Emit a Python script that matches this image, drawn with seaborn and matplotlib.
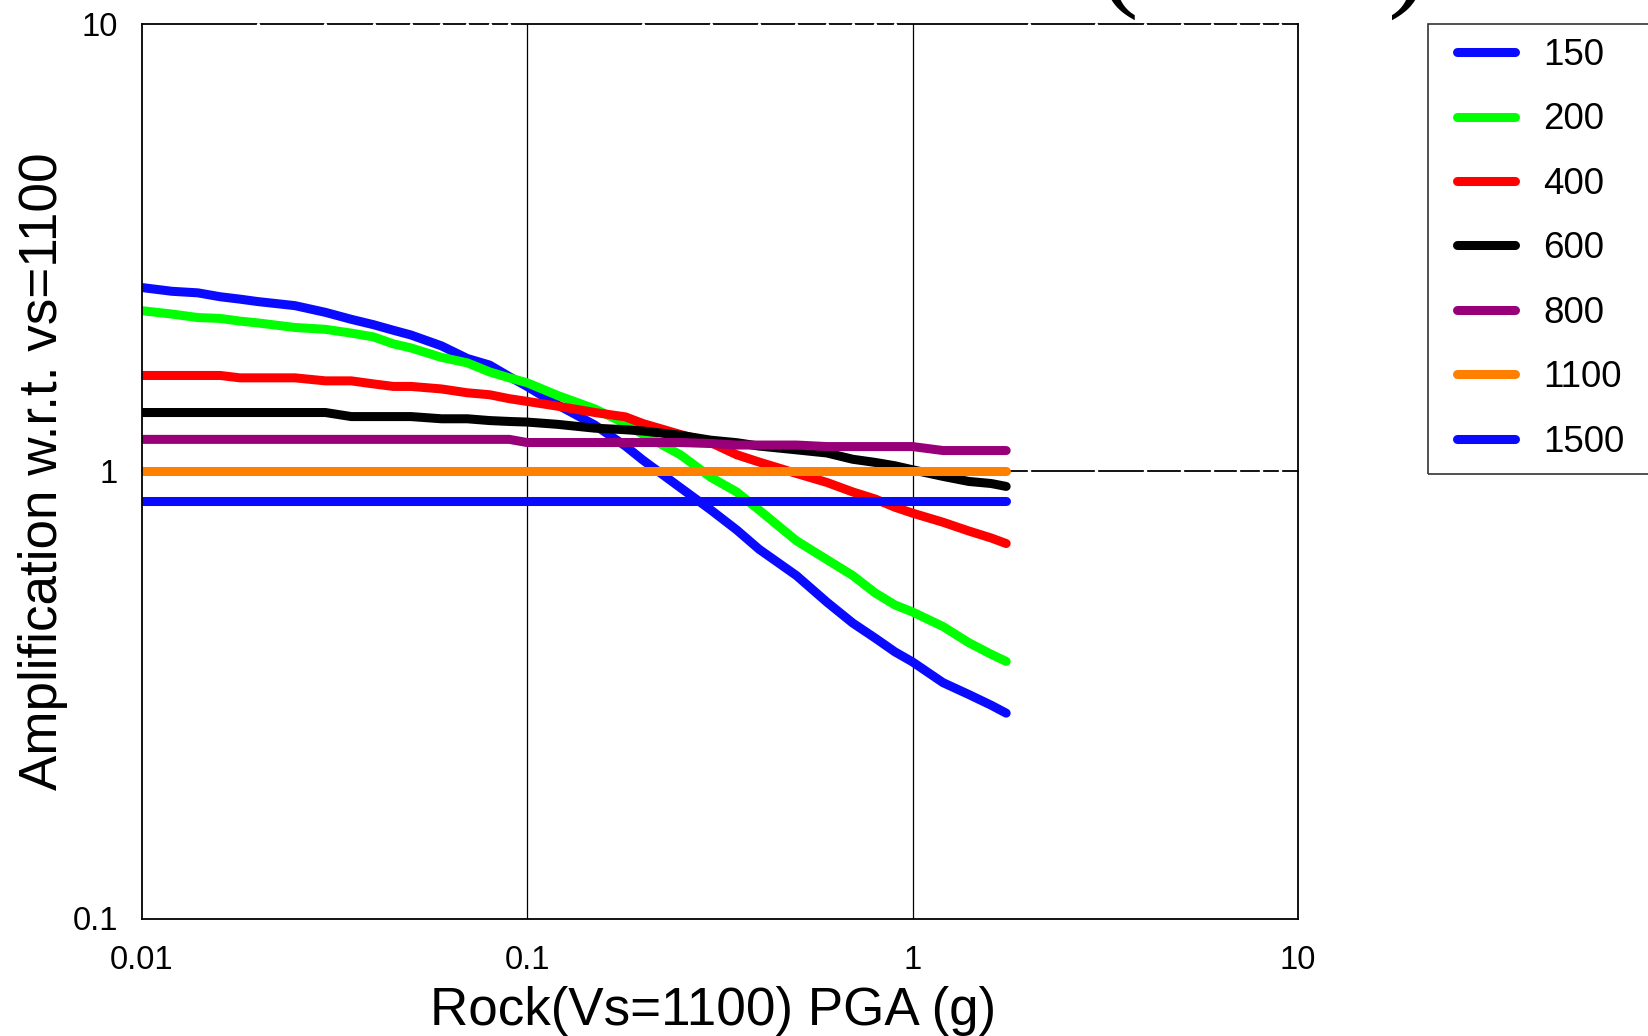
import numpy as np
import pandas as pd
import matplotlib
matplotlib.use("Agg")
import matplotlib.pyplot as plt
from matplotlib.lines import Line2D
from matplotlib.patches import Rectangle
from matplotlib.ticker import LogLocator, NullFormatter, FixedFormatter, FixedLocator
import seaborn as sns

# Rock PGA (g) at which the amplification factors are tabulated
pga = [0.01, 0.012, 0.014, 0.016, 0.018, 0.02, 0.025, 0.03, 0.035, 0.04,
       0.045, 0.05, 0.06, 0.07, 0.08, 0.09, 0.1, 0.12, 0.15, 0.18,
       0.2, 0.25, 0.3, 0.35, 0.4, 0.5, 0.6, 0.7, 0.8, 0.9,
       1.0, 1.2, 1.4, 1.6, 1.75]

# Site Vs30 values (m/s) shown in the legend
vs_labels = ["150", "200", "400", "600", "800", "1100", "1500"]

amp_150 = [2.58, 2.53, 2.51, 2.46, 2.43, 2.40, 2.35, 2.27, 2.19, 2.13,
           2.07, 2.02, 1.91, 1.79, 1.73, 1.63, 1.55, 1.41, 1.27, 1.14,
           1.06, 0.92, 0.82, 0.74, 0.67, 0.585, 0.51, 0.458, 0.424, 0.395,
           0.375, 0.337, 0.317, 0.300, 0.288]
amp_200 = [2.29, 2.25, 2.21, 2.20, 2.17, 2.15, 2.10, 2.08, 2.04, 2.00,
           1.93, 1.89, 1.80, 1.75, 1.67, 1.62, 1.58, 1.48, 1.38, 1.28,
           1.21, 1.09, 0.97, 0.90, 0.82, 0.70, 0.635, 0.585, 0.535, 0.503,
           0.485, 0.450, 0.414, 0.390, 0.376]
amp_400 = [1.64, 1.64, 1.64, 1.64, 1.62, 1.62, 1.62, 1.595, 1.595, 1.57,
           1.55, 1.55, 1.53, 1.50, 1.485, 1.455, 1.435, 1.40, 1.355, 1.325,
           1.28, 1.21, 1.16, 1.09, 1.05, 0.99, 0.945, 0.90, 0.868, 0.832,
           0.807, 0.770, 0.736, 0.710, 0.690]
amp_600 = [1.355, 1.355, 1.355, 1.355, 1.355, 1.355, 1.355, 1.355, 1.327, 1.327,
           1.327, 1.327, 1.312, 1.312, 1.300, 1.294, 1.290, 1.275, 1.250, 1.240,
           1.232, 1.205, 1.175, 1.160, 1.140, 1.118, 1.100, 1.065, 1.048, 1.030,
           1.009, 0.975, 0.950, 0.940, 0.926]
amp_800 = [1.18, 1.18, 1.18, 1.18, 1.18, 1.18, 1.18, 1.18, 1.18, 1.18,
           1.18, 1.18, 1.18, 1.18, 1.18, 1.18, 1.161, 1.161, 1.161, 1.161,
           1.161, 1.161, 1.155, 1.146, 1.146, 1.146, 1.137, 1.137, 1.137, 1.137,
           1.137, 1.114, 1.114, 1.114, 1.114]
amp_1100 = [1.0] * len(pga)
amp_1500 = [0.86] * len(pga)

series = [amp_150, amp_200, amp_400, amp_600, amp_800, amp_1100, amp_1500]
colors = ["#0a0aff", "#00ff00", "#ff0000", "#000000", "#970079", "#ff8000", "#0a0aff"]

x_tick_labels = ["0.01", "0.1", "1", "10"]
y_tick_labels = ["0.1", "1", "10"]

df = pd.concat(
    [pd.DataFrame({"pga": pga, "amp": vals, "vs": lab})
     for lab, vals in zip(vs_labels, series)],
    ignore_index=True,
)
palette = dict(zip(vs_labels, colors))

sns.set_style("white")
plt.rcParams["font.family"] = ["Liberation Sans", "DejaVu Sans"]
for key in ["text.color", "axes.labelcolor", "xtick.color", "ytick.color"]:
    plt.rcParams[key] = "black"

LW = 6.5

W, H = 1648, 1036
fig = plt.figure(figsize=(W / 100, H / 100), dpi=100)
ax = fig.add_axes([141.5 / W, 1 - 918.5 / H, (1298 - 141.5) / W, (918.5 - 24.5) / H])

ax.set_xscale("log")
ax.set_yscale("log")
ax.set_xlim(0.01, 10)
ax.set_ylim(0.1, 10)

sns.lineplot(data=df, x="pga", y="amp", hue="vs", hue_order=vs_labels,
             palette=palette, linewidth=LW, legend=False, errorbar=None,
             solid_capstyle="round", ax=ax, zorder=3)
for ln in ax.lines:
    ln.set_linewidth(LW)
    ln.set_solid_capstyle("round")
    ln.set_solid_joinstyle("round")

# ticks
ax.xaxis.set_major_locator(FixedLocator([0.01, 0.1, 1, 10]))
ax.xaxis.set_major_formatter(FixedFormatter(x_tick_labels))
ax.yaxis.set_major_locator(FixedLocator([0.1, 1, 10]))
ax.yaxis.set_major_formatter(FixedFormatter(y_tick_labels))
ax.xaxis.set_minor_locator(LogLocator(base=10, subs=np.arange(2, 10)))
ax.yaxis.set_minor_locator(LogLocator(base=10, subs=np.arange(2, 10)))
ax.xaxis.set_minor_formatter(NullFormatter())
ax.yaxis.set_minor_formatter(NullFormatter())
ax.tick_params(which="major", direction="out", length=13, width=1.1,
               labelsize=23.5, color="black", labelcolor="black", pad=4)
ax.tick_params(which="minor", direction="out", length=7, width=1.1, color="black")
ax.tick_params(axis="x", which="major", pad=6)

# grid: thin black lines at decades, broken by white minor lines along x
for xv in [0.1, 1]:
    ax.axvline(xv, color="black", lw=0.9, zorder=1)
for yv in [1, 10]:
    ax.axhline(yv, color="black", lw=1.3, zorder=1, clip_on=False)
for xv in ax.xaxis.get_minorticklocs():
    if 0.01 < xv < 10:
        ax.axvline(xv, color="white", lw=2.4, zorder=1.5, clip_on=False)

for side in ["left", "bottom", "right"]:
    ax.spines[side].set_color("black")
    ax.spines[side].set_linewidth(1.3)
    ax.spines[side].set_zorder(4)
ax.spines["top"].set_visible(False)

ax.set_xlabel("Rock(Vs=1100) PGA (g)", fontsize=38.2, labelpad=7, x=0.4945)
ax.set_ylabel("Amplification w.r.t. vs=1100", fontsize=38.2, labelpad=3)

# legend
FS_LEG = 26.5
handles = [Line2D([0], [0], color=c, lw=LW, solid_capstyle="round") for c in colors]
fig.legend(handles, vs_labels, loc="upper left",
           bbox_to_anchor=(1457 / W, 1 - 38 / H), frameon=False,
           fontsize=FS_LEG, handlelength=1.58, handletextpad=0.76,
           labelspacing=0.80, borderpad=0, borderaxespad=0)
fig.patches.append(Rectangle((1427.7 / W, 1 - 474 / H), 0.3, 450 / H,
                             transform=fig.transFigure, fill=False,
                             edgecolor="#333333", lw=1.2))

# heading, mostly above the canvas
fig.text(1098 / W, 1 + 6 / H, "(", fontsize=88, family="Liberation Serif",
         ha="left", va="baseline")
fig.text(1388 / W, 1 + 6 / H, ")", fontsize=88, family="Liberation Serif",
         ha="left", va="baseline")

fig.savefig("out.png", dpi=100)
